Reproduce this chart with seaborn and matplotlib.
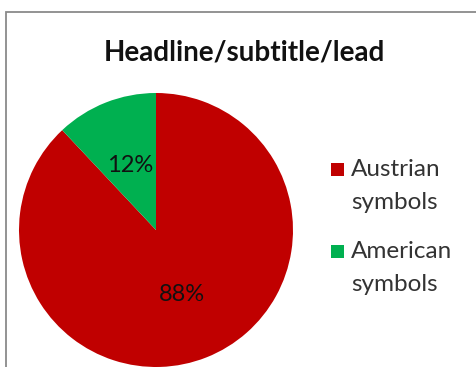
import matplotlib
matplotlib.use("Agg")
import matplotlib.pyplot as plt
from matplotlib.patches import Rectangle
import seaborn as sns

# Share of symbols by origin
categories = ["Austrian symbols", "American symbols"]
legend_lines = ["Austrian\nsymbols", "American\nsymbols"]
shares = [88, 12]
title = "Headline/subtitle/lead"

sns.set_theme(style="white")
plt.rcParams["font.family"] = ["Lato", "DejaVu Sans"]

colors = sns.color_palette(["#C00000", "#00B050"])

W, H = 476, 367
fig = plt.figure(figsize=(W / 100, H / 100), dpi=100)
fig.patch.set_facecolor("white")

# Chart-area frame (runs off the right and bottom edges)
frame = Rectangle((6 / W, -0.2), 1.2, 1 - 12 / H + 0.2, transform=fig.transFigure,
                  fill=False, edgecolor="#8a8a8a", linewidth=1.3)
fig.patches.append(frame)

# Pie axes: radius 1 maps to 137 px, centre at (156, 230) from top-left
r = 137
cx, cy = 156, 230
ax = fig.add_axes([(cx - r) / W, (H - cy - r) / H, 2 * r / W, 2 * r / H])
wedges, _, autotexts = ax.pie(
    shares, colors=colors, startangle=90, counterclock=False,
    autopct=lambda p: f"{p:.0f}%", pctdistance=0.51,
    wedgeprops=dict(linewidth=0),
    textprops=dict(fontsize=17, color="#111111"),
)
ax.set_xlim(-1, 1)
ax.set_ylim(-1, 1)
ax.set_aspect("equal")
ax.axis("off")

fig.text(244 / W, 1 - 53 / H, title, ha="center", va="center",
         fontsize=20, fontweight="bold", color="#111111")

# Legend drawn as square swatches with two-line labels
legend_tops = [169, 251]
for top, label, col in zip(legend_tops, legend_lines, colors):
    sq = 13
    fig.patches.append(Rectangle((331 / W, 1 - (top + sq / 2) / H), sq / W, sq / H,
                                 transform=fig.transFigure, facecolor=col,
                                 edgecolor="none"))
    fig.text(351 / W, 1 - (top - 10) / H, label, ha="left", va="top",
             fontsize=17.5, color="#333333", linespacing=1.68)

fig.savefig("out.png", dpi=100)
